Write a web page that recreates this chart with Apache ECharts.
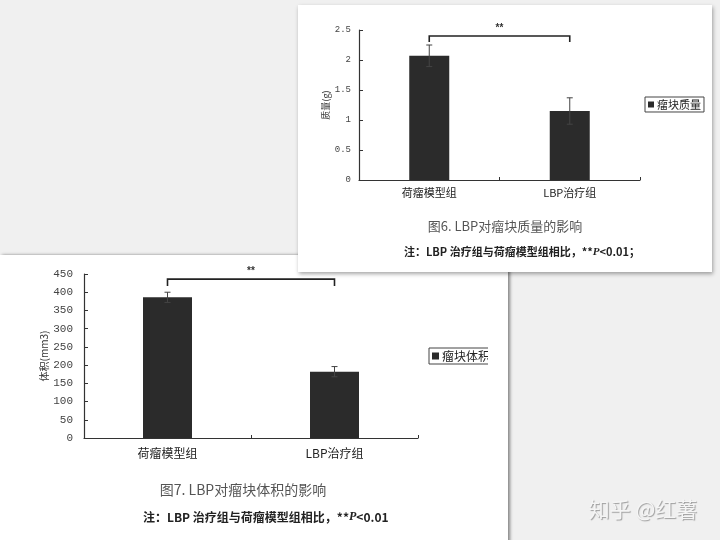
<!DOCTYPE html>
<html><head><meta charset="utf-8">
<script src="https://cdn.jsdelivr.net/npm/echarts@6/dist/echarts.min.js"></script>
<style>html,body{margin:0;padding:0;background:#f0f0f0}#c{width:720px;height:540px}</style>
</head><body><div id="c"></div>
<script>
const categories = ['荷瘤模型组', 'LBP治疗组'];
const massValues = [2.07, 1.15];
const massErrors = [0.18, 0.22];
const massMax = 2.5, massStep = 0.5;
const massSignificance = [0, 1, 2.4];
const volumeValues = [386, 182];
const volumeErrors = [14, 14];
const volumeMax = 450, volumeStep = 50;
const volumeSignificance = [0, 1, 436];

const CJK = '"Noto Sans CJK SC", sans-serif';
const NUM = '"Liberation Mono", monospace';

function errorRender(params, api) {
  const i = api.value(0);
  const lo = api.coord([i, api.value(1)]);
  const hi = api.coord([i, api.value(2)]);
  const w = 3;
  const st = {stroke: '#444', lineWidth: 1};
  return {type: 'group', children: [
    {type: 'line', shape: {x1: hi[0], y1: hi[1], x2: lo[0], y2: lo[1]}, style: st},
    {type: 'line', shape: {x1: hi[0] - w, y1: hi[1], x2: hi[0] + w, y2: hi[1]}, style: st},
    {type: 'line', shape: {x1: lo[0] - w, y1: lo[1], x2: lo[0] + w, y2: lo[1]}, style: st}
  ]};
}
function bracketRender(tick, gap) {
  return function (params, api) {
    const a = api.coord([api.value(0), api.value(2)]);
    const b = api.coord([api.value(1), api.value(2)]);
    return {type: 'group', children: [
      {type: 'polyline', shape: {points: [[a[0], a[1] + tick], [a[0], a[1]], [b[0], b[1]], [b[0], b[1] + tick]]},
        style: {stroke: '#222', lineWidth: 1.6, fill: null}},
      {type: 'text', style: {text: '**', x: (a[0] + b[0]) / 2, y: a[1] - gap, align: 'center', verticalAlign: 'middle',
        fill: '#333', font: 'bold 10px "Liberation Sans"'}}
    ]};
  };
}
function errData(vals, errs) { return vals.map((v, i) => [i, v - errs[i], v + errs[i]]); }
function noteRich(size) {
  return {
    a: {font: 'bold ' + size + 'px ' + CJK, fill: '#222'},
    p: {font: 'italic bold ' + size + 'px "Liberation Serif"', fill: '#222'}
  };
}

const axisLine = {lineStyle: {color: '#333', width: 1.2}};

const chart = echarts.init(document.getElementById('c'));
chart.setOption({
  backgroundColor: '#f0f0f0',
  animation: false,
  graphic: [
    {type: 'rect', z: -10, shape: {x: 0, y: 255, width: 508, height: 290},
      style: {fill: '#fff', shadowBlur: 3, shadowColor: 'rgba(0,0,0,0.45)', shadowOffsetX: 2, shadowOffsetY: 0}},
    {type: 'rect', z: -9, shape: {x: 298, y: 5, width: 414, height: 267},
      style: {fill: '#fff', shadowBlur: 4, shadowColor: 'rgba(0,0,0,0.35)', shadowOffsetX: 1, shadowOffsetY: 2}},
    {type: 'rect', z: 100, shape: {x: 488, y: 340, width: 19, height: 30}, style: {fill: '#fff'}},
    {type: 'text', z: 5, style: {text: '图6. LBP对瘤块质量的影响', x: 505, y: 226, align: 'center', verticalAlign: 'middle',
      fill: '#555', font: '13px ' + CJK}},
    {type: 'text', z: 5, style: {text: '{a|注：LBP 治疗组与荷瘤模型组相比，**}{p|P}{a|<0.01；}', x: 404, y: 252, align: 'left', verticalAlign: 'middle',
      rich: noteRich(11)}},
    {type: 'text', z: 5, style: {text: '图7. LBP对瘤块体积的影响', x: 243, y: 490, align: 'center', verticalAlign: 'middle',
      fill: '#555', font: '14px ' + CJK}},
    {type: 'text', z: 5, style: {text: '{a|注：LBP 治疗组与荷瘤模型组相比，**}{p|P}{a|<0.01}', x: 143, y: 517, align: 'left', verticalAlign: 'middle',
      rich: noteRich(12)}},
    {type: 'text', z: 5, style: {text: '知乎 @红薯', x: 643, y: 509, align: 'center', verticalAlign: 'middle',
      fill: '#f5f5f5', font: '21px ' + CJK, textShadowColor: 'rgba(0,0,0,0.35)', textShadowBlur: 1, textShadowOffsetX: 1, textShadowOffsetY: 1}}
  ],
  legend: [
    {data: ['瘤块质量'], left: 645, top: 97, icon: 'rect', itemWidth: 6, itemHeight: 6, itemGap: 0, padding: [2, 3],
      borderColor: '#444', borderWidth: 1, selectedMode: false, textStyle: {fontSize: 11, color: '#222', fontFamily: CJK, padding: [0, 0, 0, -2]}},
    {data: ['瘤块体积'], left: 429, top: 348, icon: 'rect', itemWidth: 7, itemHeight: 7, itemGap: 0, padding: [2, 3],
      borderColor: '#444', borderWidth: 1, selectedMode: false, textStyle: {fontSize: 12, color: '#222', fontFamily: CJK, padding: [0, 0, 0, -2]}}
  ],
  grid: [
    {left: 359, top: 30, width: 281, height: 150},
    {left: 84, top: 274, width: 334, height: 164}
  ],
  xAxis: [
    {type: 'category', gridIndex: 0, data: categories, axisLine: axisLine,
      axisTick: {show: true, inside: true, length: 3, lineStyle: {color: '#333'}},
      axisLabel: {fontSize: 11, color: '#222', margin: 7, fontFamily: CJK}},
    {type: 'category', gridIndex: 1, data: categories, axisLine: axisLine,
      axisTick: {show: true, inside: true, length: 3, lineStyle: {color: '#333'}},
      axisLabel: {fontSize: 12, color: '#222', margin: 9, fontFamily: CJK}}
  ],
  yAxis: [
    {type: 'value', gridIndex: 0, min: 0, max: massMax, interval: massStep, name: '质量(g)', nameLocation: 'middle', nameGap: 29,
      nameTextStyle: {fontSize: 9, color: '#333', fontFamily: CJK},
      axisLine: Object.assign({show: true}, axisLine), axisTick: {show: true, inside: true, length: 4, lineStyle: {color: '#333'}},
      splitLine: {show: false}, axisLabel: {fontSize: 9, color: '#444', margin: 8, fontFamily: NUM}},
    {type: 'value', gridIndex: 1, min: 0, max: volumeMax, interval: volumeStep, name: '体积(mm3)', nameLocation: 'middle', nameGap: 34,
      nameTextStyle: {fontSize: 10, color: '#333', fontFamily: CJK},
      axisLine: Object.assign({show: true}, axisLine), axisTick: {show: true, inside: true, length: 4, lineStyle: {color: '#333'}},
      splitLine: {show: false}, axisLabel: {fontSize: 11, color: '#444', margin: 11, fontFamily: NUM}}
  ],
  series: [
    {name: '瘤块质量', type: 'bar', xAxisIndex: 0, yAxisIndex: 0, data: massValues, barWidth: 40, itemStyle: {color: '#2b2b2b'}},
    {name: 'massErr', type: 'custom', xAxisIndex: 0, yAxisIndex: 0, data: errData(massValues, massErrors), renderItem: errorRender, z: 5,
      encode: {x: 0, y: [1, 2]}},
    {name: 'massSig', type: 'custom', xAxisIndex: 0, yAxisIndex: 0, data: [massSignificance], renderItem: bracketRender(6, 8), z: 5},
    {name: '瘤块体积', type: 'bar', xAxisIndex: 1, yAxisIndex: 1, data: volumeValues, barWidth: 49, itemStyle: {color: '#2b2b2b'}},
    {name: 'volErr', type: 'custom', xAxisIndex: 1, yAxisIndex: 1, data: errData(volumeValues, volumeErrors), renderItem: errorRender, z: 5,
      encode: {x: 0, y: [1, 2]}},
    {name: 'volSig', type: 'custom', xAxisIndex: 1, yAxisIndex: 1, data: [volumeSignificance], renderItem: bracketRender(7, 8), z: 5}
  ]
});
</script>
</body></html>
